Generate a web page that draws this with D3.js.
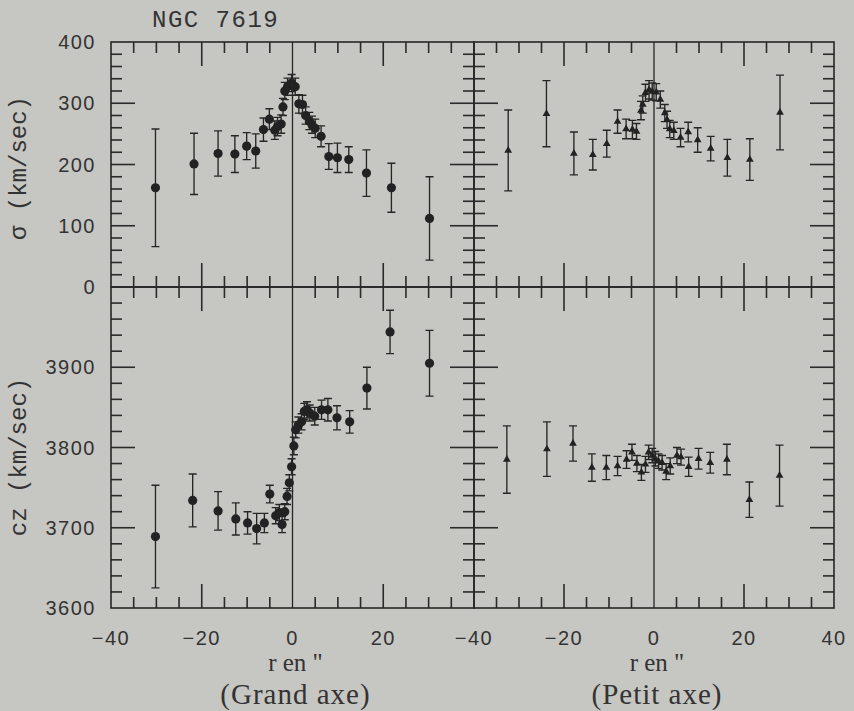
<!DOCTYPE html>
<html><head><meta charset="utf-8">
<script src="https://cdn.jsdelivr.net/npm/d3@7"></script>
<style>body{margin:0;background:#c8c8c4;} svg{display:block}</style>
</head><body><svg id="c" width="854" height="711"></svg>
<script>
// ---------- data ----------
const titleText = "NGC 7619";
const xTickLabelsLeft = [-40, -20, 0, 20];
const xTickLabelsRight = [-40, -20, 0, 20, 40];
const sigmaTickLabels = [0, 100, 200, 300, 400];
const czTickLabels = [3600, 3700, 3800, 3900];
const xMajorTicks = [-20, 20];
const xMinorTicks = [-35,-30,-25,-15,-10,-5,5,10,15,25,30,35];
const sigmaMajorTicks = [100, 200, 300];
const sigmaMinorTicks = [20,40,60,80,120,140,160,180,220,240,260,280,320,340,360,380];
const czMajorTicks = [3700, 3800, 3900];
const czMinorTicks = [3620,3640,3660,3680,3720,3740,3760,3780,3820,3840,3860,3880,3920,3940,3960,3980];
const xLabelText = "r en \"";
const leftCaption = "(Grand axe)";
const rightCaption = "(Petit axe)";
const sigmaLabel = "σ (km/sec)";
const czLabel = "cz (km/sec)";

// Grand axe: velocity dispersion
const majSigR   = [-30.2,-21.7,-16.4,-12.7,-10.1,-8.1,-6.4,-5.1,-3.9,-3.3,-2.5,-2.1,-1.7,-1.1,-0.2,0.6,1.4,2.2,2.9,3.7,4.3,5.0,6.3,8.0,9.9,12.4,16.3,21.8,30.2];
const majSig    = [162,201,218,217,230,222,257,274,256,262,266,294,320,327,333,327,299,298,280,271,265,259,246,213,211,208,186,162,112];
const majSigErr = [96,50,37,30,22,28,19,17,15,15,15,14,14,14,14,14,15,15,14,14,14,15,17,21,24,21,38,40,68];

// Petit axe: velocity dispersion
const minSigR   = [-32.4,-23.9,-17.8,-13.6,-10.5,-8.1,-6.2,-4.8,-3.9,-2.9,-2.5,-1.9,-1.1,-0.4,0.5,1.4,2.4,2.9,3.5,4.4,5.9,7.6,9.7,12.6,16.3,21.3,28.0];
const minSig    = [223,283,218,216,234,270,258,257,254,288,298,317,322,319,318,306,284,273,258,255,244,253,240,226,211,208,285];
const minSigErr = [66,54,35,25,22,19,16,15,13,15,14,14,15,14,14,14,14,14,14,14,15,16,20,20,30,34,61];

// Grand axe: cz
const majCzR   = [-30.2,-22.0,-16.4,-12.5,-9.9,-7.9,-6.2,-5.0,-3.7,-2.9,-2.3,-1.7,-1.2,-0.7,-0.2,0.3,0.7,1.3,2.0,2.6,3.2,3.8,4.9,6.4,7.8,9.8,12.6,16.4,21.5,30.2];
const majCz    = [3689,3734,3721,3711,3706,3699,3706,3742,3715,3719,3704,3720,3739,3756,3776,3802,3822,3828,3832,3845,3847,3843,3839,3847,3847,3837,3832,3874,3944,3905];
const majCzErr = [64,33,24,20,14,19,12,11,10,10,10,10,10,10,10,11,10,10,10,10,10,10,11,12,14,15,14,26,27,41];

// Petit axe: cz
const minCzR   = [-32.7,-23.8,-18.0,-13.8,-10.6,-8.1,-6.1,-4.9,-3.8,-2.8,-1.9,-1.2,-0.4,0.3,1.0,1.8,2.7,3.6,5.1,6.0,7.7,9.9,12.5,16.2,21.2,27.9];
const minCz    = [3785,3798,3805,3775,3775,3777,3785,3794,3780,3769,3779,3794,3790,3786,3783,3781,3770,3777,3790,3788,3776,3786,3781,3785,3735,3765];
const minCzErr = [42,34,22,17,15,12,11,10,10,10,10,9,9,9,9,9,10,10,10,10,12,13,13,19,22,38];

// ---------- layout ----------
const svg = d3.select("#c");
svg.append("rect").attr("width",854).attr("height",711).attr("fill","#c6c6c2");

const ink = "#262626";
const xL = d3.scaleLinear().domain([-40,40]).range([111,474]);
const xR = d3.scaleLinear().domain([-40,40]).range([474,834]);
const yS = d3.scaleLinear().domain([0,400]).range([287,42]);
const yC = d3.scaleLinear().domain([3600,4000]).range([608,287]);

function drawPoints(x, y, rs, vs, es, kind){
  const g = svg.append("g");
  const cap = 4;
  let d = "";
  rs.forEach((r, i) => {
    const cx = x(r), lo = y(vs[i] - es[i]), hi = y(vs[i] + es[i]);
    d += `M${cx},${lo}V${hi}M${cx - cap},${lo}h${2*cap}M${cx - cap},${hi}h${2*cap}`;
  });
  g.append("path").attr("d", d).attr("fill", "none").attr("stroke", ink).attr("stroke-width", 1.35);
  rs.forEach((r, i) => {
    if (kind === "circle"){
      g.append("circle").attr("cx", x(r)).attr("cy", y(vs[i])).attr("r", 4.6).attr("fill", "#222");
    } else {
      g.append("path").attr("d", d3.symbol(d3.symbolTriangle).size(26)())
        .attr("transform", `translate(${x(r)},${y(vs[i])})`).attr("fill", "#222");
    }
  });
}

drawPoints(xL, yS, majSigR, majSig, majSigErr, "circle");
drawPoints(xR, yS, minSigR, minSig, minSigErr, "triangle");
drawPoints(xL, yC, majCzR, majCz, majCzErr, "circle");
drawPoints(xR, yC, minCzR, minCz, minCzErr, "triangle");

// ticks drawn as thin filled rectangles pointing into each panel
function tickSet(x, y, xs, ys, len){
  const [xa, xb] = x.range();
  const [yB, yT] = y.range();
  const g = svg.append("g").attr("fill", "#2b2b2b");
  const w = 1.6;
  ys.forEach(v => {
    g.append("rect").attr("x", xa).attr("y", y(v) - w/2).attr("width", len).attr("height", w);
    g.append("rect").attr("x", xb - len).attr("y", y(v) - w/2).attr("width", len).attr("height", w);
  });
  xs.forEach(v => {
    g.append("rect").attr("x", x(v) - w/2).attr("y", yT).attr("width", w).attr("height", len);
    g.append("rect").attr("x", x(v) - w/2).attr("y", yB - len).attr("width", w).attr("height", len);
  });
}
function frame(x, y){
  const [xa, xb] = x.range();
  const [yB, yT] = y.range();
  svg.append("rect").attr("x", xa).attr("y", yT).attr("width", xb - xa).attr("height", yB - yT)
    .attr("fill", "none").attr("stroke", ink).attr("stroke-width", 1.6);
  svg.append("line").attr("x1", x(0)).attr("x2", x(0)).attr("y1", yT).attr("y2", yB)
    .attr("stroke", ink).attr("stroke-width", 1.3);
}

[[xL, yS, sigmaMajorTicks, sigmaMinorTicks], [xR, yS, sigmaMajorTicks, sigmaMinorTicks],
 [xL, yC, czMajorTicks, czMinorTicks], [xR, yC, czMajorTicks, czMinorTicks]].forEach(([x, y, ma, mi]) => {
  tickSet(x, y, xMajorTicks, ma, 24);
  tickSet(x, y, xMinorTicks, mi, 11);
  frame(x, y);
});

// ---------- tick labels ----------
const lblFont = "Liberation Sans, Arial, sans-serif";
[[yS, sigmaTickLabels], [yC, czTickLabels]].forEach(([y, vals]) => {
  vals.forEach(v => {
    svg.append("text").attr("x", 96).attr("y", y(v)).attr("dy", "0.36em").attr("text-anchor", "end")
      .text(String(v)).attr("font-family", lblFont).attr("font-size", 20).attr("letter-spacing", 1.5).attr("fill", "#333");
  });
});
[[xL, xTickLabelsLeft], [xR, xTickLabelsRight]].forEach(([x, vals]) => {
  vals.forEach(v => {
    svg.append("text").attr("x", x(v)).attr("y", 645).attr("text-anchor", "middle")
      .text((v < 0 ? "\u2212" : "") + Math.abs(v))
      .attr("font-family", lblFont).attr("font-size", 20).attr("letter-spacing", 1.5).attr("fill", "#333");
  });
});

// ---------- titles ----------
svg.append("text").attr("x", 152).attr("y", 27).text(titleText)
  .attr("font-family", "Liberation Mono, Courier New, monospace").attr("font-size", 24)
  .attr("letter-spacing", 1.5).attr("fill", "#333");

[[sigmaLabel, 168], [czLabel, 457]].forEach(([t, cy]) => {
  svg.append("text").attr("transform", `translate(26,${cy}) rotate(-90)`)
    .attr("text-anchor", "middle").text(t)
    .attr("font-family", "Liberation Mono, Courier New, monospace").attr("font-size", 24)
    .attr("fill", "#333");
});

[[xL, leftCaption], [xR, rightCaption]].forEach(([x, cap]) => {
  svg.append("text").attr("x", x(0) + 3).attr("y", 671).attr("text-anchor", "middle").text(xLabelText)
    .attr("font-family", "Liberation Serif, Times New Roman, serif").attr("font-size", 25).attr("fill", "#333");
  svg.append("text").attr("x", x(0) + 3).attr("y", 704).attr("text-anchor", "middle").text(cap)
    .attr("font-family", "Liberation Serif, Times New Roman, serif").attr("font-size", 29)
    .attr("letter-spacing", 1).attr("fill", "#333");
});
</script>
</body></html>
